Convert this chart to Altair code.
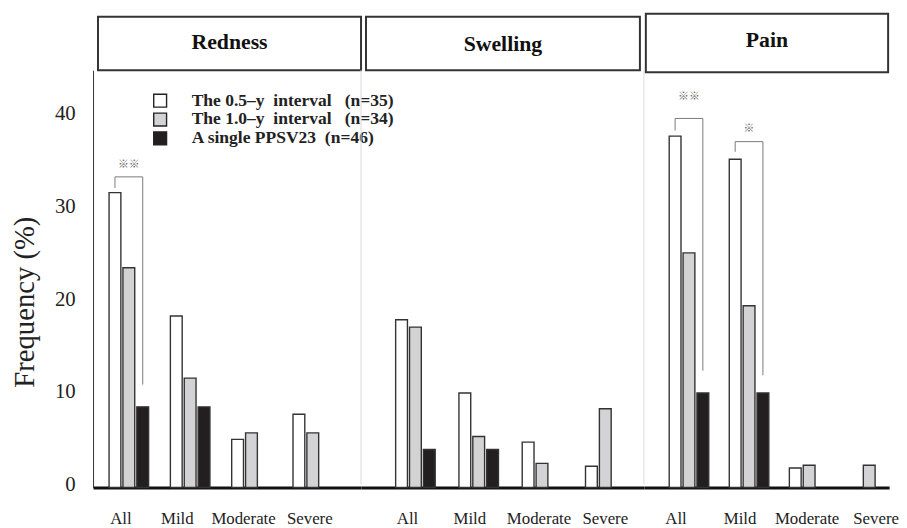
import altair as alt
import pandas as pd

panels = ["Redness", "Swelling", "Pain"]
severities = ["All", "Mild", "Moderate", "Severe"]
series = [
    "The 0.5\u2013y\u00a0\u00a0interval\u00a0\u00a0\u00a0(n=35)",
    "The 1.0\u2013y\u00a0\u00a0interval\u00a0\u00a0\u00a0(n=34)",
    "A single PPSV23\u00a0\u00a0(n=46)",
]
colors = ["#ffffff", "#d3d3d5", "#231f20"]

redness_05 = [31.8, 18.5, 5.2, 7.9]
redness_10 = [23.7, 11.8, 5.9, 5.9]
redness_single = [8.7, 8.7, 0, 0]
swelling_05 = [18.1, 10.2, 4.9, 2.3]
swelling_10 = [17.3, 5.5, 2.6, 8.5]
swelling_single = [4.1, 4.1, 0, 0]
pain_05 = [37.9, 35.4, 2.1, 0]
pain_10 = [25.3, 19.6, 2.4, 2.4]
pain_single = [10.2, 10.2, 0, 0]

# significance brackets: panel, group, left-leg bottom, top, right-leg bottom, marker, marker y
brk_panel = ["Redness", "Pain", "Pain"]
brk_group = ["All", "All", "Mild"]
brk_left = [32.3, 38.5, 36.2]
brk_top = [33.5, 39.8, 37.3]
brk_right = [11.1, 12.6, 12.1]
brk_mark = ["\u203b\u203b", "\u203b\u203b", "\u203b"]
brk_mark_y = [34.8, 42.1, 38.7]

values = {
    "Redness": [redness_05, redness_10, redness_single],
    "Swelling": [swelling_05, swelling_10, swelling_single],
    "Pain": [pain_05, pain_10, pain_single],
}

rows = []
for p in panels:
    for si, s in enumerate(series):
        for gi, g in enumerate(severities):
            v = values[p][si][gi]
            if v > 0:
                rows.append({"panel": p, "severity": g, "series": s, "value": v})
bars_df = pd.DataFrame(rows)

brows, mrows = [], []
for i in range(len(brk_panel)):
    pts = [(series[0], brk_left[i]), (series[0], brk_top[i]), (series[2], brk_top[i]), (series[2], brk_right[i])]
    for k, (s, v) in enumerate(pts):
        brows.append({"panel": brk_panel[i], "severity": brk_group[i], "series": s, "value": v, "bid": i, "ord": k})
    mrows.append({"panel": brk_panel[i], "severity": brk_group[i], "series": series[1], "value": brk_mark_y[i], "mark": brk_mark[i]})
brk_df = pd.DataFrame(brows)
mark_df = pd.DataFrame(mrows)

SERIF = "Liberation Serif"
HDR = 60          # header strip height inside each panel
PLOT_H = 422      # height of the bar area
H = HDR + PLOT_H

cfg = {
    "Redness": dict(w=271, pI=0.355, pO=0.363, align=0.36, offs=[-8, -13, -8, -3], box=(5, 271, 6, 60), ty=32),
    "Swelling": dict(w=286, pI=0.375, pO=0.422, align=0.648, offs=[-8, -9, -3, 0], box=(5, 282, 6, 60), ty=34),
    "Pain": dict(w=248, pI=0.344, pO=0.213, align=0.99, offs=[-13, -9, -2, 7], box=(2, 247, 3, 62), ty=30),
}


def offset_expr(offs):
    return ("datum.value == 'All' ? %d : datum.value == 'Mild' ? %d : datum.value == 'Moderate' ? %d : %d" % tuple(offs))


def panel(p, first):
    c = cfg[p]
    xs = alt.X(
        "severity:N",
        sort=severities,
        scale=alt.Scale(domain=severities, paddingInner=c["pI"], paddingOuter=c["pO"], align=c["align"]),
        axis=alt.Axis(title=None, labelAngle=0, ticks=False, domainWidth=3, domainColor="#111",
                      labelFont=SERIF, labelFontSize=17, labelColor="#222", labelPadding=23,
                      labelOffset={"expr": offset_expr(c["offs"])}),
    )
    xo = alt.XOffset("series:N", sort=series, scale=alt.Scale(domain=series, paddingInner=0.15, paddingOuter=0))
    if first:
        yaxis = alt.Axis(title="Frequency (%)", values=[0, 10, 20, 30, 40], ticks=False, grid=False,
                         domainColor="#333", domainWidth=1, labelFont=SERIF, labelFontSize=21,
                         labelColor="#222", labelPadding=18, labelOffset=-3, titleFont=SERIF, titleFontSize=29,
                         titleFontWeight="normal", titleColor="#222", titlePadding=15,
                         titleY=HDR + PLOT_H / 2 + 23)
    else:
        yaxis = None
    yscale = alt.Scale(domain=[0, 45], range=[H, HDR])
    ys = alt.Y("value:Q", scale=yscale, axis=yaxis)
    if first:
        legend = alt.Legend(title=None, orient="none", legendX=59, legendY=82, symbolType="square",
                            symbolSize=169, symbolStrokeColor="#222", symbolStrokeWidth=1.4,
                            labelFont=SERIF, labelFontWeight="bold", labelFontSize=17.7, labelColor="#222",
                            labelLimit=400, labelOffset=23, rowPadding=-1.5, padding=0)
    else:
        legend = None
    fill = alt.Fill("series:N", sort=series, scale=alt.Scale(domain=series, range=colors), legend=legend)

    bx1, bx2, by1, by2 = c["box"]
    hd = pd.DataFrame({"t": [p]})
    box = alt.Chart(hd).mark_rect(fill="white", stroke="#333", strokeWidth=2).encode(
        x=alt.value(bx1), x2=alt.value(bx2), y=alt.value(by1), y2=alt.value(by2)
    )
    txt = alt.Chart(hd).mark_text(font=SERIF, fontWeight="bold", fontSize=22, color="#111").encode(
        text="t:N", x=alt.value((bx1 + bx2) / 2), y=alt.value(c["ty"])
    )

    bars = alt.Chart(bars_df[bars_df.panel == p]).mark_bar(stroke="#333", strokeWidth=1.4).encode(
        x=xs, xOffset=xo, y=ys, fill=fill
    )
    layers = []
    if not first:
        sep = alt.Chart(pd.DataFrame({"a": [0]})).mark_rule(color="#dcdcdc", strokeWidth=1).encode(
            x=alt.value(0), y=alt.value(HDR), y2=alt.value(H - 3)
        )
        layers.append(sep)
    layers += [bars, box, txt]
    bd = brk_df[brk_df.panel == p]
    if len(bd):
        br = alt.Chart(bd).mark_line(color="#7a7a7a", strokeWidth=1).encode(
            x=alt.X("severity:N", sort=severities), xOffset=alt.XOffset("series:N", sort=series),
            y=alt.Y("value:Q", scale=yscale), detail="bid:N", order="ord:Q"
        )
        md = mark_df[mark_df.panel == p]
        mk = alt.Chart(md).mark_text(font="Noto Sans CJK JP", fontSize=11, color="#666666").encode(
            x=alt.X("severity:N", sort=severities), xOffset=alt.XOffset("series:N", sort=series),
            y=alt.Y("value:Q", scale=yscale), text="mark:N"
        )
        layers += [br, mk]
    return alt.layer(*layers).properties(width=c["w"], height=H)


chart = alt.hconcat(
    panel("Redness", True), panel("Swelling", False), panel("Pain", False), spacing=0, bounds="flush"
).resolve_scale(x="independent", y="independent", fill="independent").properties(
    padding={"left": 3, "top": 0, "right": 0, "bottom": 0}
).configure(background="white").configure_view(strokeWidth=0, stroke="transparent")

chart.save("out.html", embed_options={"renderer": "svg", "actions": False})
